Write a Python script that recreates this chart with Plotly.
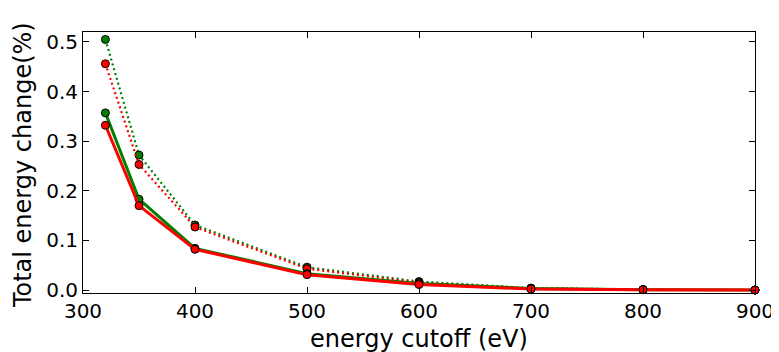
import plotly.graph_objects as go

cutoff = [320, 350, 400, 500, 600, 700, 800, 900]
green_dotted = [0.505, 0.272, 0.131, 0.046, 0.017, 0.004, 0.001, 0.0]
red_dotted = [0.456, 0.253, 0.127, 0.043, 0.015, 0.003, 0.0008, 0.0]
green_solid = [0.357, 0.183, 0.084, 0.033, 0.013, 0.003, 0.0008, 0.0]
red_solid = [0.332, 0.170, 0.082, 0.031, 0.011, 0.002, 0.0005, 0.0]

x_ticks = [300, 400, 500, 600, 700, 800, 900]
y_ticks = [0, 0.1, 0.2, 0.3, 0.4, 0.5]

GREEN = "#008000"
RED = "#ff0000"

fig = go.Figure()

def add(y, color, dash, width):
    fig.add_trace(go.Scatter(
        x=cutoff, y=y, mode="lines+markers",
        line=dict(color=color, width=width, dash=dash),
        marker=dict(color=color, size=8, line=dict(color="black", width=1)),
        showlegend=False, cliponaxis=False,
    ))

add(green_dotted, GREEN, "2px,3px", 2.2)
add(red_dotted, RED, "2px,3px", 2.2)
add(green_solid, GREEN, "solid", 3)
add(red_solid, RED, "solid", 3)

axis_common = dict(
    showline=True, linecolor="black", linewidth=1, mirror="ticks",
    ticks="inside", ticklen=6, tickcolor="black", tickwidth=1,
    showgrid=False, zeroline=False, automargin=False,
    tickfont=dict(family="DejaVu Sans", size=20, color="black"),
)

# the page body adds an 8px margin, so the figure is 8px smaller on each axis
fig.update_layout(
    width=771, height=344,
    margin=dict(l=75, r=24, t=24, b=59),
    paper_bgcolor="white", plot_bgcolor="white",
    xaxis=dict(range=[300, 900], tickvals=x_ticks, **axis_common),
    yaxis=dict(range=[-0.006, 0.52], tickvals=y_ticks, tickformat=".1f",
               **axis_common),
    annotations=[
        dict(text="energy cutoff (eV)", xref="paper", yref="paper",
             x=0.5, y=-0.176, xanchor="center", yanchor="middle",
             showarrow=False,
             font=dict(family="DejaVu Sans", size=24, color="black")),
        dict(text="Total energy change(%)", xref="paper", yref="paper",
             x=-0.0893, y=0.49, xanchor="center", yanchor="middle",
             textangle=-90, showarrow=False,
             font=dict(family="DejaVu Sans", size=24, color="black")),
    ],
)

fig.write_html("out.html")
